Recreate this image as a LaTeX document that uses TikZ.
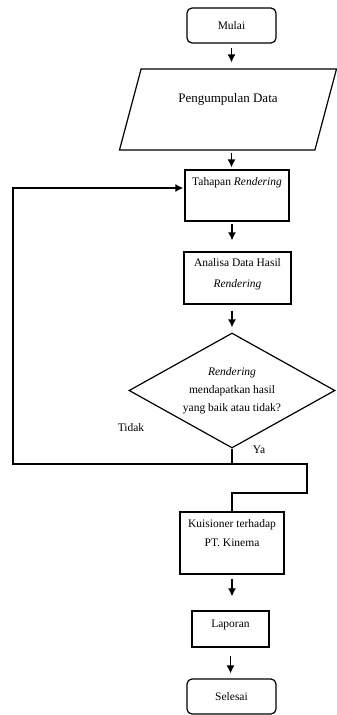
\documentclass[tikz,border=0pt]{standalone}
\usepackage{fontspec}
\setmainfont{Liberation Serif}
\usetikzlibrary{shapes.geometric, arrows.meta}

\begin{document}
\begin{tikzpicture}[
        x=1pt, y=-1pt,
        every node/.style={font=\fontsize{11.5}{19}\selectfont, align=center},
        proses/.style={draw, line width=1.2pt, inner sep=0pt},
        terminal/.style={proses, rounded corners=5pt, minimum width=89pt, minimum height=35pt},
        masukan/.style={proses, trapezium, trapezium left angle=56, trapezium right angle=124, trapezium stretches body, minimum width=217pt, minimum height=81pt},
        keputusan/.style={proses, diamond, shape aspect=1.79, minimum width=206pt, minimum height=115pt},
        garis/.style={draw, line width=1.3pt},
        panah/.style={garis, -{Latex[length=8pt, width=8pt]}}
    ]
        \useasboundingbox (0,0) rectangle (337,715);
        \node[terminal] (mulai) at (231.5,25.5) {Mulai};
        \node[masukan, font=\fontsize{13}{19}\selectfont] (kumpul) at (228,109.5) {Pengumpulan Data\\[4pt]~};
        \node[proses, minimum width=104pt, minimum height=51pt] (tahap) at (237,195.5) {Tahapan \textit{Rendering}\\[8pt]~};
        \node[proses, minimum width=107pt, minimum height=52pt] (analisa) at (237.5,278) {Analisa Data Hasil\\[2pt]\textit{Rendering}\\[-10pt]~};
        \node[keputusan] (cek) at (232,390.5) {\textit{Rendering}\\[-1pt]mendapatkan hasil\\[-1pt]yang baik atau tidak?};
        \node[proses, minimum width=104pt, minimum height=62pt] (kuis) at (232,543) {Kuisioner terhadap\\PT. Kinema\\~};
        \node[proses, minimum width=77pt, minimum height=36pt] (lapor) at (230.5,629) {Laporan\\[-8pt]~};
        \node[terminal] (selesai) at (231.5,696.5) {Selesai};
        \node (tidak) at (131,428) {Tidak};
        \node (ya) at (259,450) {Ya};
        \coordinate (cabang) at (232,464);
        \coordinate (kiri) at (13,464);
        \coordinate (belok) at (307,493);

        \draw[panah, shorten <=4pt, shorten >=6pt] (mulai.south) -- (mulai.south |- kumpul.north);
        \draw[panah, shorten <=2pt, shorten >=2pt] (mulai.south |- kumpul.south) -- (mulai.south |- tahap.north);
        \draw[panah, shorten <=2pt, shorten >=11pt] (cek.north |- tahap.south) -- (cek.north |- analisa.north);
        \draw[panah, shorten <=6pt, shorten >=5pt] (cek.north |- analisa.south) -- (cek.north);
        \draw[panah, shorten <=4pt, shorten >=14pt] (kuis.south) -- (kuis.south |- lapor.north);
        \draw[panah, shorten <=8pt, shorten >=5pt] (lapor.south) -- (lapor.south |- selesai.north);
        \draw[garis] (cek.south) -- (cabang);
        \draw[panah, shorten >=1pt] (cabang) -- (kiri) |- ([yshift=7.5pt]tahap.west);
        \draw[garis] (cabang) -| (belok) -| (kuis.north);
    \end{tikzpicture}
\end{document}
